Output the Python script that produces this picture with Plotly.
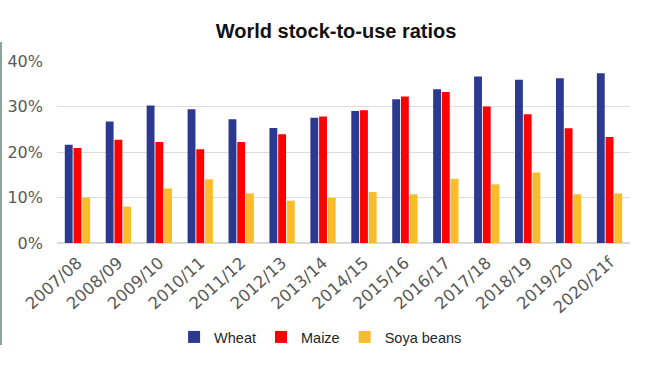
import plotly.graph_objects as go

seasons = ["2007/08", "2008/09", "2009/10", "2010/11", "2011/12", "2012/13", "2013/14",
           "2014/15", "2015/16", "2016/17", "2017/18", "2018/19", "2019/20", "2020/21f"]
wheat = [21.6, 26.7, 30.2, 29.4, 27.2, 25.3, 27.5, 29.0, 31.6, 33.8, 36.6, 35.9, 36.2, 37.3]
maize = [20.9, 22.7, 22.2, 20.6, 22.2, 23.9, 27.8, 29.2, 32.2, 33.2, 30.0, 28.3, 25.2, 23.3]
soya = [10.0, 8.0, 12.0, 14.0, 10.9, 9.3, 9.9, 11.2, 10.7, 14.1, 12.9, 15.5, 10.7, 10.9]

series = [("Wheat", wheat, "#2B3990"), ("Maize", maize, "#FF0000"), ("Soya beans", soya, "#FBBC2C")]

fig = go.Figure()
for name, vals, col in series:
    fig.add_trace(go.Bar(x=seasons, y=[v / 100 for v in vals], name=name,
                         marker=dict(color=col, line=dict(width=0))))

fig.update_layout(
    width=650, height=366,
    margin=dict(l=57, r=20, t=61, b=123, autoexpand=False),
    paper_bgcolor="white", plot_bgcolor="white",
    barmode="group", bargap=0.36, bargroupgap=0.1,
    title=dict(text="<b>World stock-to-use ratios</b>", x=0.517, xanchor="center",
               y=1 - 31 / 366, yanchor="middle",
               font=dict(family="Liberation Sans, Arial", size=20, color="#111111")),
    xaxis=dict(tickangle=-42, tickfont=dict(family="DejaVu Sans", size=16.5, color="#595959"),
               showgrid=False, showline=False, ticks="", automargin=False,
               ticklabelstandoff=6),
    yaxis=dict(range=[0, 0.40], dtick=0.10, tickformat=".0%",
               tickfont=dict(family="DejaVu Sans", size=16, color="#595959"),
               gridcolor="#DCDCDC", gridwidth=1, zeroline=True, zerolinecolor="#D9D9D9",
               ticks="", showline=False, ticklabelstandoff=13, automargin=False),
    legend=dict(orientation="h", x=0.46, xanchor="center", y=-(337 - 243) / 182, yanchor="middle",
                font=dict(family="Liberation Sans, Arial", size=14.5, color="#262626"),
                itemwidth=30, traceorder="normal"),
    showlegend=True,
)

fig.add_shape(type="line", xref="paper", yref="paper",
              x0=(1 - 57) / 573, x1=(1 - 57) / 573,
              y0=(243 - 42) / 182, y1=(243 - 345) / 182,
              line=dict(color="#8AA69B", width=2))

fig.write_html("out.html", config={"displayModeBar": False},
               post_script="document.body.style.margin='0px';")
